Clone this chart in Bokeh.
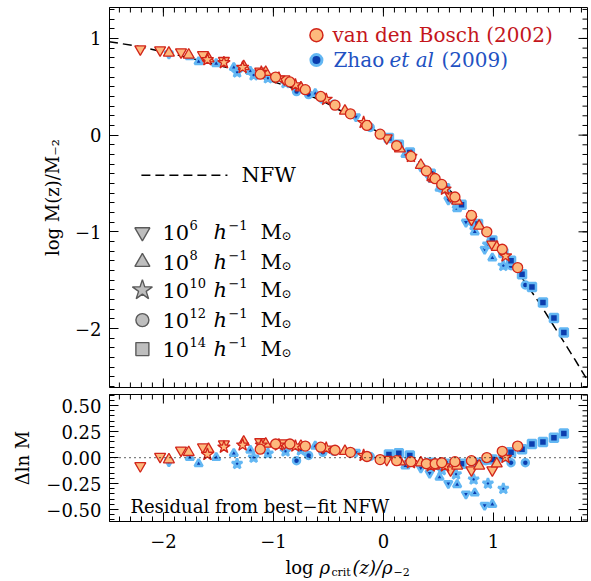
from bokeh.plotting import figure
from bokeh.layouts import column
from bokeh.models import Range1d, FixedTicker, Label, Span
from bokeh.embed import file_html
from bokeh.resources import INLINE

FONT = "DejaVu Serif"

# ---------------- data ----------------
# NFW curve: log rho_crit(z)/rho_-2  vs  log M(z)/M_-2
nfw_x = [-2.62, -2.24, -1.88, -1.52, -1.18, -0.86, -0.55, -0.27, 0.00, 0.25,
         0.48, 0.69, 0.88, 1.07, 1.25, 1.42, 1.58, 1.74, 1.90]
nfw_y = [0.99, 0.92, 0.83, 0.73, 0.62, 0.50, 0.35, 0.18, 0.00, -0.20,
         -0.43, -0.67, -0.92, -1.19, -1.46, -1.74, -2.03, -2.32, -2.62]

# van den Bosch (2002)
vdb_m6_x = [-2.21, -2.03, -1.84, -1.64, -1.45, -1.12, -0.90, 0.03, 0.61, 0.80, 0.99]
vdb_m6_logm = [0.89, 0.88, 0.86, 0.83, 0.77, 0.66, 0.58, -0.03, -0.63, -0.87, -1.13]
vdb_m6_dlnm = [-0.08, 0.01, 0.07, 0.10, 0.13, 0.15, 0.14, -0.02, -0.12, -0.12, -0.12]

vdb_m8_x = [-1.95, -1.77, -1.59, -1.27, -1.07, -0.75, -0.35, 0.15, 0.34, 0.46, 0.67, 0.87, 1.03]
vdb_m8_logm = [0.85, 0.83, 0.79, 0.71, 0.65, 0.49, 0.25, -0.14, -0.31, -0.45, -0.68, -0.94, -1.16]
vdb_m8_dlnm = [-0.02, 0.05, 0.08, 0.15, 0.13, 0.11, 0.06, -0.04, -0.05, -0.08, -0.08, -0.08, -0.06]

vdb_m10_x = [-1.60, -1.45, -1.28, -1.11, -0.95, -0.80, -0.52, -0.18, 0.25, 0.43, 0.56, 1.11]
vdb_m10_logm = [0.78, 0.75, 0.70, 0.65, 0.59, 0.52, 0.37, 0.13, -0.22, -0.42, -0.56, -1.25]
vdb_m10_dlnm = [0.03, 0.10, 0.12, 0.12, 0.12, 0.11, 0.09, 0.02, -0.05, -0.08, -0.08, 0.00]

vdb_m12_x = [-1.12, -0.98, -0.85, -0.71, -0.57, -0.44, -0.30, -0.15, -0.03, 0.12,
             0.25, 0.39, 0.47, 0.53, 0.65, 0.80, 0.94, 1.08, 1.22]
vdb_m12_logm = [0.63, 0.60, 0.55, 0.47, 0.40, 0.31, 0.22, 0.10, 0.01, -0.11,
                -0.22, -0.37, -0.45, -0.51, -0.64, -0.83, -1.00, -1.18, -1.37]
vdb_m12_dlnm = [0.08, 0.13, 0.13, 0.11, 0.10, 0.07, 0.05, 0.01, -0.02, -0.03,
                -0.04, -0.06, -0.06, -0.05, -0.04, -0.03, 0.00, 0.06, 0.11]

# Zhao et al (2009)
zh_m6_x = [-1.95, -0.25, 0.34, 0.42, 0.59, 0.75, 0.92]
zh_m6_logm = [0.84, 0.19, -0.33, -0.44, -0.67, -0.90, -1.18]
zh_m6_dlnm = [-0.04, 0.05, -0.10, -0.15, -0.25, -0.35, -0.46]

zh_m8_x = [-1.76, -1.68, -1.52, -1.36, -1.21, -0.62, 0.20, 0.51, 0.67, 0.83, 0.99]
zh_m8_logm = [0.81, 0.76, 0.74, 0.70, 0.66, 0.43, -0.20, -0.55, -0.76, -1.00, -1.27]
zh_m8_dlnm = [0.00, -0.06, 0.00, 0.04, 0.07, 0.11, -0.08, -0.19, -0.26, -0.34, -0.45]

zh_m10_x = [-1.33, -1.18, -1.05, -0.89, -0.75, 0.53, 0.66, 0.82, 0.95, 1.09]
zh_m10_logm = [0.65, 0.62, 0.59, 0.54, 0.48, -0.54, -0.71, -0.93, -1.13, -1.35]
zh_m10_dlnm = [-0.06, 0.00, 0.04, 0.06, 0.07, -0.12, -0.16, -0.21, -0.25, -0.30]

zh_m12_x = [-0.79, -0.68, -0.55, -0.45, -0.12, 0.93, 1.16, 1.29]
zh_m12_logm = [0.45, 0.42, 0.37, 0.32, 0.08, -1.00, -1.35, -1.55]
zh_m12_dlnm = [-0.03, 0.02, 0.05, 0.06, 0.01, -0.03, -0.05, -0.05]

zh_m14_x = [0.05, 0.14, 0.24, 0.43, 0.56, 0.71, 0.86, 0.99, 1.09, 1.16, 1.26, 1.35, 1.45, 1.55, 1.64]
zh_m14_logm = [-0.03, -0.10, -0.18, -0.40, -0.55, -0.72, -0.92, -1.09, -1.22, -1.30,
               -1.44, -1.57, -1.73, -1.89, -2.04]
zh_m14_dlnm = [0.03, 0.04, 0.02, -0.05, -0.06, -0.06, -0.05, -0.02, 0.01, 0.05,
               0.08, 0.13, 0.15, 0.19, 0.23]

# tick labels
x_ticks = [-2, -1, 0, 1]
x_tick_labels = ["\u22122", "\u22121", "0", "1"]
top_y_ticks = [-2, -1, 0, 1]
top_y_tick_labels = ["\u22122", "\u22121", "0", "1"]
res_y_ticks = [-0.5, -0.25, 0, 0.25, 0.5]
res_y_tick_labels = ["\u22120.50", "\u22120.25", "0.00", "0.25", "0.50"]

mass_exponents = ["6", "8", "10", "12", "14"]
mass_markers = ["inverted_triangle", "triangle", "star", "circle", "square"]

# ---------------- styling / geometry ----------------
VDB_FILL, VDB_LINE, VDB_TEXT = "#FDB97D", "#D2251A", "#C4161C"
ZH_FILL, ZH_LINE, ZH_TEXT = "#0B3DAE", "#63B7F3", "#2251C2"

W = 591
BL, BR = 109, 4
FRAME_W = W - BL - BR
X0, X1 = -2.49, 1.855
Y1_0, Y1_1 = -2.61, 1.32
Y2_0, Y2_1 = -0.615, 0.606
H1, T1, B1 = 390, 7, 3
H2, T2, B2 = 167, 4, 36
H3 = 581 - H1 - H2

x_minor = [round(-2.5 + 0.1 * i, 2) for i in range(45)]
top_minor = [round(-2.6 + 0.1 * i, 2) for i in range(40)]
res_minor = [round(-0.6 + 0.05 * i, 2) for i in range(25)]


def style_axis(ax, ticks, minor, labels, standoff):
    ax.ticker = FixedTicker(ticks=ticks, minor_ticks=minor)
    ax.major_tick_in = 9
    ax.major_tick_out = 0
    ax.minor_tick_in = 5
    ax.minor_tick_out = 0
    ax.axis_line_color = "black"
    ax.major_tick_line_color = "black"
    ax.minor_tick_line_color = "black"
    ax.major_label_text_font = FONT
    ax.major_label_text_font_size = "18px"
    ax.major_label_text_color = "black"
    ax.major_label_standoff = standoff
    ax.major_label_overrides = dict(zip(ticks, labels))
    ax.axis_label_text_font = FONT
    ax.axis_label_text_font_style = "normal"
    ax.axis_label_text_font_size = "18px"
    ax.axis_label_text_color = "black"


def mirror_ticks(p, side, major, minor, edge, px_per_unit):
    for ticks, L in ((minor, 5), (major, 9)):
        d = L / px_per_unit
        n = len(ticks)
        if side == "top":
            p.segment(x0=ticks, y0=[edge] * n, x1=ticks, y1=[edge - d] * n, line_color="black", line_width=1)
        elif side == "bottom":
            p.segment(x0=ticks, y0=[edge] * n, x1=ticks, y1=[edge + d] * n, line_color="black", line_width=1)
        else:  # right
            p.segment(x0=[edge] * n, y0=ticks, x1=[edge - d] * n, y1=ticks, line_color="black", line_width=1)


def base_fig(height, yr, top, bottom, **kw):
    p = figure(width=W, height=height, x_range=x_range, y_range=yr,
               output_backend="svg", toolbar_location=None,
               min_border_left=BL, min_border_right=BR, min_border_top=top, min_border_bottom=bottom, **kw)
    p.xgrid.visible = False
    p.ygrid.visible = False
    p.background_fill_color = "white"
    p.border_fill_color = "white"
    return p


def lab(p, x, y, text, size, color="black", style="normal", dx=0, dy=0):
    p.add_layout(Label(x=x, y=y, x_offset=dx, y_offset=dy, text=text, text_font=FONT,
                       text_font_size=f"{size}px", text_color=color, text_font_style=style,
                       text_baseline="middle", text_align="left"))


x_range = Range1d(X0, X1)
xppu = FRAME_W / (X1 - X0)

# ---------------- top panel ----------------
p1 = base_fig(H1, Range1d(Y1_0, Y1_1), T1, B1, x_axis_location=None)
p1.outline_line_color = "black"
style_axis(p1.yaxis[0], top_y_ticks, top_minor, top_y_tick_labels, 8)
p1.yaxis.axis_label = "log M(z)/M\u208b\u2082"
p1.yaxis.axis_label_standoff = 9
y1ppu = (H1 - T1 - B1) / (Y1_1 - Y1_0)
mirror_ticks(p1, "top", x_ticks, x_minor, Y1_1, y1ppu)
mirror_ticks(p1, "bottom", x_ticks, x_minor, Y1_0, y1ppu)
mirror_ticks(p1, "right", top_y_ticks, top_minor, X1, xppu)

p1.line(nfw_x, nfw_y, line_color="black", line_width=1.5, line_dash="9 5")

zh_sets = [(zh_m6_x, zh_m6_logm, zh_m6_dlnm, "inverted_triangle", 8),
           (zh_m8_x, zh_m8_logm, zh_m8_dlnm, "triangle", 8),
           (zh_m10_x, zh_m10_logm, zh_m10_dlnm, "star", 11),
           (zh_m12_x, zh_m12_logm, zh_m12_dlnm, "circle", 7),
           (zh_m14_x, zh_m14_logm, zh_m14_dlnm, "square", 8)]
vdb_sets = [(vdb_m6_x, vdb_m6_logm, vdb_m6_dlnm, "inverted_triangle", 11),
            (vdb_m8_x, vdb_m8_logm, vdb_m8_dlnm, "triangle", 11),
            (vdb_m10_x, vdb_m10_logm, vdb_m10_dlnm, "star", 13),
            (vdb_m12_x, vdb_m12_logm, vdb_m12_dlnm, "circle", 10)]

for xs, ys, _, mk, sz in zh_sets:
    p1.scatter(xs, ys, marker=mk, size=sz, fill_color=ZH_FILL, line_color=ZH_LINE, line_width=2.5)
for xs, ys, _, mk, sz in vdb_sets:
    p1.scatter(xs, ys, marker=mk, size=sz, fill_color=VDB_FILL, line_color=VDB_LINE, line_width=1.3)

# dataset legend (top right)
p1.scatter([-0.609], [1.034], marker="circle", size=13, fill_color=VDB_FILL, line_color=VDB_LINE, line_width=1.5)
lab(p1, -0.609, 1.034, "van den Bosch (2002)", 20, VDB_TEXT, dx=16)
p1.scatter([-0.609], [0.776], marker="circle", size=11, fill_color=ZH_FILL, line_color=ZH_LINE, line_width=3)
lab(p1, -0.609, 0.776, "Zhao", 20, ZH_TEXT, dx=17)
lab(p1, -0.609, 0.776, "et al", 20, ZH_TEXT, style="italic", dx=73)
lab(p1, -0.609, 0.776, "(2009)", 20, ZH_TEXT, dx=125)

# NFW legend
p1.line([-2.2, -1.418], [-0.414, -0.414], line_color="black", line_width=1.5, line_dash="9 5")
lab(p1, -1.291, -0.414, "NFW", 21)

# mass legend
mass_rows_y = [-1.003, -1.313, -1.603, -1.913, -2.213]
mass_sizes = [15, 15, 21, 13, 13]
for yy, ex, mk, sz in zip(mass_rows_y, mass_exponents, mass_markers, mass_sizes):
    p1.scatter([-2.191], [yy], marker=mk, size=sz, fill_color="#BEBEBE", line_color="#5A5A5A", line_width=1.4)
    lab(p1, -2.191, yy, "10", 21, dx=20)
    lab(p1, -2.191, yy, ex, 13, dx=47, dy=7)
    lab(p1, -2.191, yy, "h", 21, style="italic", dx=71)
    lab(p1, -2.191, yy, "\u22121", 13, dx=86, dy=7)
    lab(p1, -2.191, yy, "M", 21, dx=118)
    lab(p1, -2.191, yy, "\u2299", 12, dx=139, dy=-4)

# ---------------- residual panel ----------------
p2 = base_fig(H2, Range1d(Y2_0, Y2_1), T2, B2)
p2.outline_line_color = "black"
style_axis(p2.xaxis[0], x_ticks, x_minor, x_tick_labels, 12)
style_axis(p2.yaxis[0], res_y_ticks, res_minor, res_y_tick_labels, 8)
p2.yaxis.axis_label = "\u0394ln M"
p2.yaxis.axis_label_standoff = 10
y2ppu = (H2 - T2 - B2) / (Y2_1 - Y2_0)
mirror_ticks(p2, "top", x_ticks, x_minor, Y2_1, y2ppu)
mirror_ticks(p2, "right", res_y_ticks, res_minor, X1, xppu)

p2.add_layout(Span(location=0, dimension="width", line_color="black", line_width=1.2, line_dash="1 4"))

for xs, _, rs, mk, sz in zh_sets:
    p2.scatter(xs, rs, marker=mk, size=sz, fill_color=ZH_FILL, line_color=ZH_LINE, line_width=2.5)
for xs, _, rs, mk, sz in vdb_sets:
    p2.scatter(xs, rs, marker=mk, size=sz, fill_color=VDB_FILL, line_color=VDB_LINE, line_width=1.3)

lab(p2, -2.30, -0.471, "Residual from best\u2212fit NFW", 18)

# ---------------- x-axis title strip ----------------
p3 = base_fig(H3, Range1d(0, 1), 0, 0, x_axis_location=None, y_axis_location=None)
p3.outline_line_color = None
xa, ya = -0.891, 0.6
lab(p3, xa, ya, "log", 18, dx=0)
lab(p3, xa, ya, "\u03c1", 18, style="italic", dx=34)
lab(p3, xa, ya, "crit", 11, dx=46, dy=-5)
lab(p3, xa, ya, "(z)/\u03c1", 18, style="italic", dx=67)
lab(p3, xa, ya, "\u22122", 11, dx=108, dy=-5)

layout = column(p1, p2, p3)
open("out.html", "w").write(file_html(layout, INLINE))
